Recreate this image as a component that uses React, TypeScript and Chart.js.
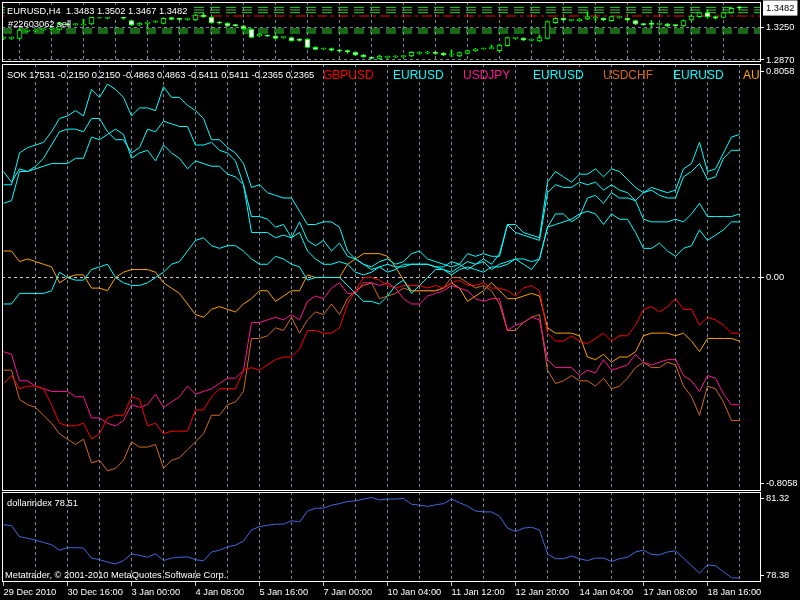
import React, { useEffect, useRef } from 'react';
import { Chart, registerables } from 'chart.js';

Chart.register(...registerables);

// ---------- data ----------
const xTickLabels = ['29 Dec 2010', '30 Dec 16:00', '3 Jan 00:00', '4 Jan 08:00', '5 Jan 16:00', '7 Jan 00:00', '10 Jan 04:00', '11 Jan 12:00', '12 Jan 20:00', '14 Jan 04:00', '17 Jan 08:00', '18 Jan 16:00'];

const eurOpen = [1.3125, 1.3125, 1.3125, 1.3207, 1.3211, 1.3227, 1.3235, 1.3231, 1.3294, 1.3286, 1.3282, 1.3294, 1.3372, 1.3361, 1.3392, 1.3365, 1.3333, 1.3282, 1.3302, 1.3317, 1.3302, 1.3368, 1.3353, 1.3349, 1.3341, 1.34, 1.3372, 1.331, 1.3302, 1.3282, 1.327, 1.3231, 1.3152, 1.3156, 1.3152, 1.3133, 1.3133, 1.3105, 1.3113, 1.3019, 1.2999, 1.3003, 1.298, 1.2972, 1.296, 1.2929, 1.2893, 1.2889, 1.2901, 1.2905, 1.2909, 1.2917, 1.2948, 1.2952, 1.2952, 1.2948, 1.2929, 1.2917, 1.2948, 1.298, 1.2999, 1.3003, 1.298, 1.3039, 1.3125, 1.3125, 1.3101, 1.3094, 1.3125, 1.331, 1.3361, 1.3337, 1.3333, 1.3353, 1.3361, 1.3361, 1.3333, 1.3368, 1.3361, 1.3333, 1.329, 1.3294, 1.329, 1.3294, 1.3278, 1.327, 1.3341, 1.338, 1.3427, 1.338, 1.3372, 1.3427, 1.3483];
const eurHigh = [1.3145, 1.3141, 1.3231, 1.3219, 1.3223, 1.3239, 1.3251, 1.331, 1.3302, 1.3298, 1.3349, 1.338, 1.34, 1.3396, 1.3404, 1.3376, 1.3341, 1.331, 1.331, 1.3333, 1.3368, 1.3376, 1.3365, 1.3365, 1.3408, 1.342, 1.338, 1.3321, 1.331, 1.329, 1.3278, 1.3239, 1.318, 1.3164, 1.316, 1.3145, 1.3141, 1.3121, 1.3121, 1.3027, 1.3011, 1.3011, 1.2995, 1.2988, 1.2968, 1.2936, 1.2901, 1.2925, 1.2917, 1.2921, 1.2925, 1.2968, 1.2968, 1.2972, 1.2964, 1.2956, 1.2988, 1.2964, 1.2988, 1.3007, 1.3011, 1.3046, 1.3054, 1.3141, 1.3137, 1.3133, 1.3113, 1.3164, 1.3329, 1.3368, 1.3368, 1.3349, 1.3361, 1.3439, 1.3388, 1.3368, 1.3388, 1.338, 1.3368, 1.3341, 1.3298, 1.3333, 1.3302, 1.3302, 1.3286, 1.3341, 1.3396, 1.3435, 1.3459, 1.3388, 1.3435, 1.3486, 1.3502];
const eurLow = [1.3109, 1.3113, 1.3117, 1.32, 1.3204, 1.3219, 1.3227, 1.3223, 1.3274, 1.3278, 1.3278, 1.3286, 1.3361, 1.3353, 1.3384, 1.3349, 1.3274, 1.3274, 1.327, 1.331, 1.3294, 1.3341, 1.3337, 1.3337, 1.3333, 1.3372, 1.3302, 1.3294, 1.3262, 1.3266, 1.3231, 1.3129, 1.3145, 1.3145, 1.3117, 1.3125, 1.309, 1.309, 1.3011, 1.2988, 1.2991, 1.2976, 1.2964, 1.2948, 1.2921, 1.2901, 1.2881, 1.2881, 1.2889, 1.2897, 1.2897, 1.2909, 1.2936, 1.294, 1.2936, 1.2921, 1.2909, 1.2909, 1.294, 1.2972, 1.2995, 1.2999, 1.2972, 1.3031, 1.3113, 1.3097, 1.3094, 1.3086, 1.3117, 1.3302, 1.3333, 1.3329, 1.3325, 1.3345, 1.3333, 1.3333, 1.3325, 1.3361, 1.3333, 1.3286, 1.3278, 1.3262, 1.3282, 1.3262, 1.3266, 1.3262, 1.3333, 1.3372, 1.3361, 1.3353, 1.3365, 1.342, 1.3467];
const eurClose = [1.3129, 1.3127, 1.3223, 1.3211, 1.3215, 1.3231, 1.3243, 1.3302, 1.3282, 1.329, 1.3286, 1.3372, 1.3376, 1.3388, 1.3396, 1.3361, 1.3282, 1.3302, 1.3306, 1.3321, 1.3361, 1.3349, 1.3349, 1.3353, 1.34, 1.338, 1.331, 1.3306, 1.327, 1.3274, 1.3239, 1.3137, 1.3172, 1.3152, 1.3125, 1.3137, 1.3097, 1.3101, 1.3019, 1.2995, 1.3003, 1.2984, 1.2976, 1.2968, 1.2929, 1.2909, 1.2889, 1.2917, 1.2905, 1.2909, 1.2913, 1.296, 1.2952, 1.2956, 1.2948, 1.2929, 1.2933, 1.2956, 1.298, 1.2999, 1.3003, 1.3007, 1.3046, 1.3133, 1.3129, 1.3105, 1.3105, 1.3133, 1.3321, 1.3361, 1.3341, 1.3341, 1.3353, 1.338, 1.3365, 1.3341, 1.338, 1.3372, 1.3341, 1.3294, 1.3286, 1.329, 1.3294, 1.327, 1.3274, 1.3333, 1.3388, 1.3427, 1.338, 1.3361, 1.3427, 1.3478, 1.3482];

const greenLevels = [1.349, 1.3459, 1.3427, 1.3235, 1.3211, 1.3188];
const redLevels = [1.3388];

const priceTicks = [1.287, 1.325, 1.3482];
const priceTickLabels = ['1.2870', '1.3250', '1.3482'];

const eurusdA = [0.35, 0.35, 0.47, 0.49, 0.5, 0.51, 0.55, 0.6, 0.61, 0.63, 0.61, 0.71, 0.68, 0.73, 0.71, 0.68, 0.61, 0.64, 0.64, 0.63, 0.72, 0.68, 0.68, 0.65, 0.63, 0.6, 0.52, 0.52, 0.49, 0.47, 0.43, 0.34, 0.35, 0.32, 0.31, 0.3, 0.3, 0.25, 0.2, 0.2, 0.21, 0.21, 0.19, 0.1, 0.07, 0.05, 0.04, 0.06, 0.07, 0.05, 0.06, 0.09, 0.1, 0.07, 0.06, 0.05, 0.04, 0.05, 0.09, 0.08, 0.09, 0.08, 0.08, 0.2, 0.2, 0.17, 0.16, 0.15, 0.36, 0.4, 0.38, 0.36, 0.39, 0.39, 0.41, 0.38, 0.41, 0.4, 0.37, 0.34, 0.32, 0.34, 0.33, 0.32, 0.33, 0.41, 0.43, 0.51, 0.4, 0.41, 0.47, 0.53, 0.54];
const eurusdB = [0.28, 0.29, 0.4, 0.4, 0.42, 0.45, 0.5, 0.55, 0.56, 0.56, 0.55, 0.6, 0.6, 0.55, 0.52, 0.52, 0.47, 0.49, 0.56, 0.55, 0.59, 0.58, 0.57, 0.57, 0.5, 0.5, 0.51, 0.48, 0.47, 0.44, 0.35, 0.23, 0.23, 0.22, 0.19, 0.2, 0.15, 0.21, 0.14, 0.12, 0.14, 0.1, 0.13, 0.08, 0.07, 0.05, 0.03, 0.04, 0.02, 0.03, 0.05, 0.05, 0.05, 0.05, 0.04, 0.03, 0.02, 0.04, 0.06, 0.05, 0.07, 0.05, 0.09, 0.2, 0.17, 0.16, 0.15, 0.14, 0.32, 0.35, 0.34, 0.34, 0.36, 0.35, 0.36, 0.33, 0.35, 0.33, 0.32, 0.29, 0.32, 0.33, 0.31, 0.3, 0.3, 0.38, 0.4, 0.43, 0.37, 0.38, 0.45, 0.48, 0.48];
const eurusdC = [0.4, 0.36, 0.41, 0.4, 0.41, 0.42, 0.43, 0.43, 0.43, 0.45, 0.45, 0.53, 0.52, 0.54, 0.56, 0.54, 0.45, 0.47, 0.48, 0.44, 0.5, 0.47, 0.45, 0.41, 0.44, 0.43, 0.42, 0.42, 0.39, 0.38, 0.35, 0.17, 0.17, 0.17, 0.15, 0.16, 0.15, 0.17, 0.1, 0.07, 0.05, 0.05, 0.06, 0.05, 0.02, 0.01, 0.02, 0.04, 0.05, 0.04, 0.04, 0.05, 0.05, 0.05, 0.04, 0.04, 0.06, 0.05, 0.03, 0.05, 0.06, 0.03, 0.05, 0.06, 0.07, 0.07, 0.06, 0.07, 0.19, 0.24, 0.24, 0.21, 0.23, 0.3, 0.31, 0.28, 0.32, 0.3, 0.3, 0.29, 0.22, 0.21, 0.21, 0.21, 0.22, 0.21, 0.24, 0.28, 0.23, 0.23, 0.23, 0.23, 0.24];
const eurusdD = [-0.1, -0.1, -0.06, -0.06, -0.06, -0.06, -0.05, 0.02, 0.0, -0.01, -0.01, 0.03, 0.04, 0.05, 0.0, -0.02, -0.03, -0.03, -0.02, 0.0, 0.02, 0.05, 0.06, 0.1, 0.14, 0.15, 0.12, 0.11, 0.12, 0.12, 0.1, 0.07, 0.05, 0.05, 0.08, 0.07, 0.05, 0.04, -0.01, 0.0, 0.0, 0.0, 0.0, -0.03, -0.06, -0.09, -0.09, -0.1, -0.07, -0.03, -0.01, -0.06, -0.03, 0.0, 0.03, 0.03, 0.01, 0.03, 0.04, 0.03, 0.02, 0.04, 0.04, 0.05, 0.07, 0.05, 0.03, 0.07, 0.19, 0.2, 0.21, 0.22, 0.24, 0.25, 0.24, 0.2, 0.24, 0.22, 0.22, 0.17, 0.11, 0.11, 0.13, 0.1, 0.08, 0.11, 0.12, 0.18, 0.14, 0.16, 0.18, 0.21, 0.21];
const gbpusd = [-0.4, -0.37, -0.42, -0.41, -0.41, -0.42, -0.48, -0.55, -0.56, -0.56, -0.55, -0.61, -0.59, -0.53, -0.52, -0.52, -0.45, -0.46, -0.56, -0.55, -0.59, -0.58, -0.58, -0.58, -0.5, -0.5, -0.45, -0.42, -0.42, -0.42, -0.35, -0.34, -0.35, -0.33, -0.31, -0.3, -0.3, -0.27, -0.2, -0.2, -0.21, -0.21, -0.19, -0.1, -0.05, 0.0, 0.0, -0.01, -0.03, -0.04, -0.03, -0.03, -0.03, -0.04, -0.03, -0.04, -0.02, -0.01, -0.03, -0.03, -0.02, -0.04, -0.04, -0.05, -0.07, -0.04, -0.03, -0.05, -0.21, -0.24, -0.24, -0.22, -0.24, -0.25, -0.23, -0.21, -0.24, -0.22, -0.22, -0.18, -0.12, -0.11, -0.13, -0.11, -0.08, -0.12, -0.12, -0.18, -0.15, -0.16, -0.18, -0.21, -0.21];
const usdjpy = [-0.28, -0.29, -0.39, -0.39, -0.41, -0.42, -0.43, -0.43, -0.43, -0.45, -0.45, -0.53, -0.53, -0.55, -0.56, -0.54, -0.48, -0.49, -0.48, -0.44, -0.49, -0.47, -0.45, -0.41, -0.44, -0.43, -0.42, -0.4, -0.38, -0.38, -0.35, -0.17, -0.17, -0.16, -0.15, -0.16, -0.14, -0.16, -0.09, -0.07, -0.08, -0.04, -0.02, -0.06, -0.06, -0.02, -0.02, -0.03, -0.02, -0.04, -0.08, -0.1, -0.1, -0.07, -0.06, -0.05, -0.03, -0.04, -0.05, -0.08, -0.09, -0.08, -0.08, -0.2, -0.18, -0.17, -0.15, -0.16, -0.31, -0.34, -0.34, -0.34, -0.37, -0.35, -0.36, -0.31, -0.35, -0.34, -0.33, -0.29, -0.32, -0.33, -0.32, -0.31, -0.31, -0.37, -0.39, -0.43, -0.37, -0.38, -0.44, -0.48, -0.48];
const usdchf = [-0.35, -0.35, -0.46, -0.48, -0.49, -0.52, -0.55, -0.59, -0.61, -0.63, -0.61, -0.7, -0.69, -0.73, -0.72, -0.69, -0.62, -0.64, -0.64, -0.63, -0.72, -0.69, -0.68, -0.65, -0.62, -0.59, -0.52, -0.52, -0.48, -0.47, -0.43, -0.23, -0.23, -0.22, -0.19, -0.2, -0.15, -0.21, -0.16, -0.13, -0.14, -0.1, -0.14, -0.08, -0.05, -0.03, -0.02, -0.08, -0.07, -0.06, -0.04, -0.05, -0.05, -0.05, -0.05, -0.04, 0.0, 0.0, -0.02, -0.04, -0.03, -0.05, -0.1, -0.2, -0.2, -0.17, -0.15, -0.14, -0.35, -0.4, -0.39, -0.37, -0.39, -0.39, -0.41, -0.38, -0.42, -0.41, -0.38, -0.34, -0.32, -0.34, -0.34, -0.32, -0.33, -0.41, -0.45, -0.52, -0.41, -0.42, -0.47, -0.54, -0.54];
const audusd = [0.1, 0.1, 0.06, 0.07, 0.06, 0.05, 0.04, -0.02, 0.0, 0.01, 0.01, -0.04, -0.04, -0.05, 0.0, 0.02, 0.03, 0.03, 0.03, 0.02, -0.02, -0.04, -0.06, -0.1, -0.14, -0.15, -0.12, -0.11, -0.12, -0.13, -0.1, -0.08, -0.05, -0.05, -0.09, -0.07, -0.05, -0.05, 0.01, 0.0, 0.0, 0.0, 0.0, 0.05, 0.07, 0.09, 0.09, 0.09, 0.08, 0.04, -0.01, -0.05, -0.05, -0.05, -0.05, -0.04, -0.02, -0.04, -0.09, -0.07, -0.05, -0.02, -0.05, -0.08, -0.08, -0.07, -0.06, -0.07, -0.19, -0.21, -0.21, -0.21, -0.22, -0.3, -0.31, -0.29, -0.32, -0.3, -0.3, -0.28, -0.22, -0.21, -0.21, -0.21, -0.22, -0.21, -0.24, -0.28, -0.23, -0.23, -0.23, -0.23, -0.24];

const sokTicks = [-0.777, 0, 0.777];
const sokTickLabels = ['-0.8058', '0.00', '0.8058'];

const dollarIndex = [80.25, 80.22, 79.86, 79.81, 79.75, 79.67, 79.6, 79.42, 79.5, 79.5, 79.49, 79.16, 79.11, 79.03, 78.97, 79.08, 79.3, 79.25, 79.19, 79.3, 79.08, 79.16, 79.19, 79.2, 79.11, 79.07, 79.36, 79.42, 79.53, 79.58, 79.72, 80.08, 80.19, 80.23, 80.27, 80.27, 80.38, 80.34, 80.7, 80.79, 80.79, 80.89, 80.94, 81.01, 81.03, 81.09, 81.14, 81.06, 81.09, 81.09, 81.11, 80.92, 80.89, 80.85, 80.9, 80.94, 81.09, 80.97, 80.86, 80.7, 80.67, 80.67, 80.53, 80.14, 80.03, 80.14, 80.17, 80.08, 79.3, 79.14, 79.14, 79.23, 79.14, 79.08, 79.16, 79.16, 79.05, 79.14, 79.19, 79.36, 79.42, 79.28, 79.27, 79.36, 79.4, 79.16, 78.91, 78.67, 78.94, 78.91, 78.71, 78.52, 78.51];
const dollarTicks = [78.58, 81.12];
const dollarTickLabels = ['78.38', '81.32'];

// ---------- styling helpers ----------
const FONT = "'Liberation Sans', Arial, sans-serif";
const X_MIN = -0.1875;
const X_MAX = 94.6875;
const GRID_STEP = 4;
const LABEL_STEP = 8;
const AXIS_W = 39;

type Txt = { text: string; x: number; y: number; color: string; size: number; clip?: boolean; bg?: string };

const decor = (texts: Txt[]) => ({
  id: 'decor',
  afterDraw(chart: any) {
    const { ctx, chartArea: a } = chart;
    ctx.save();
    ctx.strokeStyle = '#ffffff';
    ctx.lineWidth = 1;
    ctx.strokeRect(a.left + 0.5, a.top + 0.5, a.right - a.left - 1, a.bottom - a.top - 1);
    ctx.textBaseline = 'alphabetic';
    ctx.textAlign = 'left';
    for (const t of texts) {
      ctx.save();
      if (t.clip) {
        ctx.beginPath();
        ctx.rect(a.left, a.top, a.right - a.left - 1, a.bottom - a.top);
        ctx.clip();
      }
      ctx.font = `${t.size}px ${FONT}`;
      if (t.bg) {
        const w = ctx.measureText(t.text).width;
        ctx.fillStyle = t.bg;
        ctx.fillRect(t.x - 2, t.y - t.size + 1, w + 6, t.size + 2);
      }
      ctx.fillStyle = t.color;
      ctx.fillText(t.text, t.x, t.y);
      ctx.restore();
    }
    ctx.restore();
  },
});

const noPad = (s: any) => {
  s.paddingTop = 0;
  s.paddingBottom = 0;
  s.paddingLeft = 0;
  s.paddingRight = 0;
};

const xScale = (showLabels: boolean) => ({
  type: 'linear',
  min: X_MIN,
  max: X_MAX,
  offset: false,
  position: 'bottom',
  afterBuildTicks: (s: any) => {
    const t: any[] = [];
    for (let v = 0; v <= eurClose.length - 1; v += GRID_STEP) t.push({ value: v });
    s.ticks = t;
  },
  afterFit: (s: any) => {
    s.height = showLabels ? 18 : 0;
    noPad(s);
  },
  border: { display: false, dash: [3, 3] },
  grid: {
    color: (c: any) => (c.tick && c.tick.value > 0 ? '#778899' : 'rgba(0,0,0,0)'),
    lineWidth: 1,
    drawTicks: showLabels,
    tickLength: 4,
    tickColor: (c: any) => (c.tick && c.tick.value % LABEL_STEP === 0 ? '#c8c8c8' : 'rgba(0,0,0,0)'),
  },
  ticks: {
    display: showLabels,
    autoSkip: false,
    maxRotation: 0,
    minRotation: 0,
    align: 'start',
    padding: 1,
    color: '#ffffff',
    font: { family: FONT, size: 9.3 },
    callback: (v: any) => (v % LABEL_STEP === 0 ? xTickLabels[v / LABEL_STEP] ?? '' : ''),
  },
});

const yScale = (min: number, max: number, ticks: number[], labels: string[], gridColors: string[], opts: any = {}) => ({
  type: 'linear',
  position: 'right',
  min,
  max,
  afterBuildTicks: (s: any) => {
    s.ticks = ticks.map((v) => ({ value: v }));
  },
  afterFit: (s: any) => {
    s.width = AXIS_W;
    noPad(s);
  },
  border: { display: false, dash: [3, 3] },
  grid: {
    color: (c: any) => gridColors[c.index] ?? 'rgba(0,0,0,0)',
    drawTicks: true,
    tickLength: 3,
    tickColor: (c: any) => (opts.boxIndex === c.index ? 'rgba(0,0,0,0)' : '#ffffff'),
  },
  ticks: {
    padding: 2,
    color: (c: any) => (opts.boxIndex === c.index ? '#000000' : '#ffffff'),
    font: { family: FONT, size: 9.3 },
    showLabelBackdrop: (c: any) => opts.boxIndex === c.index,
    backdropColor: '#ffffff',
    backdropPadding: { x: 3, y: 2 },
    callback: (_v: any, i: number) => labels[i],
  },
});

const baseOptions = (padding: any) => ({
  responsive: false,
  animation: false as const,
  events: [] as any[],
  layout: { padding },
  plugins: { legend: { display: false }, tooltip: { enabled: false }, title: { display: false } },
});

const series = (arr: number[]) => arr.map((v, i) => ({ x: i, y: v }));
const level = (v: number) => [{ x: X_MIN, y: v }, { x: X_MAX, y: v }];

export default function App() {
  const topRef = useRef<HTMLCanvasElement>(null);
  const midRef = useRef<HTMLCanvasElement>(null);
  const botRef = useRef<HTMLCanvasElement>(null);

  useEffect(() => {
    const charts: Chart[] = [];

    // ---- price panel ----
    const levelSets: any[] = [
      ...greenLevels.map((v) => ({
        type: 'line', data: level(v), borderColor: '#32cd32', borderWidth: 1, borderDash: [10, 6], pointRadius: 0,
      })),
      ...redLevels.map((v) => ({
        type: 'line', data: level(v), borderColor: '#ff0000', borderWidth: 1, borderDash: [10, 4, 3, 4], pointRadius: 0,
      })),
    ];
    charts.push(
      new Chart(topRef.current!, {
        type: 'bar',
        data: {
          datasets: [
            {
              type: 'bar',
              data: eurOpen.map((o, i) => ({ x: i, y: [o, eurClose[i]] })) as any,
              backgroundColor: eurOpen.map((o, i) => (eurClose[i] >= o ? '#000000' : '#ffffff')),
              borderColor: '#00ff00',
              borderWidth: 1,
              borderSkipped: false,
              barThickness: 5,
              grouped: false,
              minBarLength: 1,
            } as any,
            {
              type: 'bar',
              data: eurLow.map((l, i) => ({ x: i, y: [l, eurHigh[i]] })) as any,
              backgroundColor: '#00ff00',
              borderWidth: 0,
              barThickness: 1,
              grouped: false,
            } as any,
            ...levelSets,
          ],
        },
        options: {
          ...baseOptions({ left: 2, top: 2, right: 0, bottom: 5 }),
          scales: {
            x: xScale(false) as any,
            y: yScale(1.2846, 1.3553, priceTicks, priceTickLabels, ['#778899', '#778899', 'rgba(0,0,0,0)'], { boxIndex: 2 }) as any,
          },
        } as any,
        plugins: [
          decor([
            { text: 'EURUSD,H4  1.3483 1.3502 1.3467 1.3482', x: 7, y: 14, color: '#ffffff', size: 9.3, bg: '#000000' },
            { text: '#22603062 sell', x: 8, y: 27, color: '#ffffff', size: 9.3 },
          ]),
        ],
      })
    );

    // ---- SOK panel ----
    const lineDs = (arr: number[], color: string) => ({
      type: 'line', data: series(arr), borderColor: color, borderWidth: 1, pointRadius: 0, tension: 0,
    });
    charts.push(
      new Chart(midRef.current!, {
        type: 'line',
        data: {
          datasets: [
            lineDs(eurusdA, '#00ffff'),
            lineDs(eurusdB, '#00ffff'),
            lineDs(eurusdC, '#00ffff'),
            lineDs(eurusdD, '#00ffff'),
            lineDs(gbpusd, '#ff0000'),
            lineDs(usdjpy, '#ff1493'),
            lineDs(usdchf, '#d2691e'),
            lineDs(audusd, '#ffa500'),
          ] as any,
        },
        options: {
          ...baseOptions({ left: 2, top: 2, right: 0, bottom: 1 }),
          scales: {
            x: xScale(false) as any,
            y: yScale(-0.8058, 0.8058, sokTicks, sokTickLabels, ['rgba(0,0,0,0)', '#c8c8c8', 'rgba(0,0,0,0)']) as any,
          },
        } as any,
        plugins: [
          decor([
            { text: 'SOK 17531 -0.2150 0.2150 -0.4863 0.4863 -0.5411 0.5411 -0.2365 0.2365', x: 7, y: 16, color: '#ffffff', size: 9.3 },
            { text: 'GBPUSD', x: 323, y: 17, color: '#ff0000', size: 12 },
            { text: 'EURUSD', x: 393, y: 17, color: '#00ffff', size: 12 },
            { text: 'USDJPY', x: 463, y: 17, color: '#ff1493', size: 12 },
            { text: 'EURUSD', x: 533, y: 17, color: '#00ffff', size: 12 },
            { text: 'USDCHF', x: 603, y: 17, color: '#d2691e', size: 12 },
            { text: 'EURUSD', x: 673, y: 17, color: '#00ffff', size: 12 },
            { text: 'AUDUSD', x: 743, y: 17, color: '#ffa500', size: 12, clip: true },
          ]),
        ],
      })
    );

    // ---- dollar index panel ----
    charts.push(
      new Chart(botRef.current!, {
        type: 'line',
        data: {
          datasets: [lineDs(dollarIndex, '#4169e1') as any],
        },
        options: {
          ...baseOptions({ left: 2, top: 0, right: 0, bottom: 0 }),
          scales: {
            x: xScale(true) as any,
            y: yScale(78.38, 81.32, dollarTicks, dollarTickLabels, ['rgba(0,0,0,0)', 'rgba(0,0,0,0)']) as any,
          },
        } as any,
        plugins: [
          decor([
            { text: 'dollarindex 78.51', x: 7, y: 14, color: '#ffffff', size: 9.3 },
            { text: 'Metatrader, \u00a9 2001-2010 MetaQuotes Software Corp.', x: 5, y: 86, color: '#ffffff', size: 9.3 },
          ]),
        ],
      })
    );

    return () => charts.forEach((c) => c.destroy());
  }, []);

  const abs = (top: number, h: number, z: number): React.CSSProperties => ({ position: 'absolute', left: 0, top, width: 800, height: h, display: 'block', zIndex: z });

  return (
    <div style={{ position: 'fixed', left: 0, top: 0, width: 800, height: 600, background: '#000000', overflow: 'hidden' }}>
      <canvas ref={midRef} width={800} height={430} style={abs(62, 430, 1)} />
      <canvas ref={botRef} width={800} height={108} style={abs(492, 108, 1)} />
      <canvas ref={topRef} width={800} height={67} style={abs(0, 67, 2)} />
    </div>
  );
}
